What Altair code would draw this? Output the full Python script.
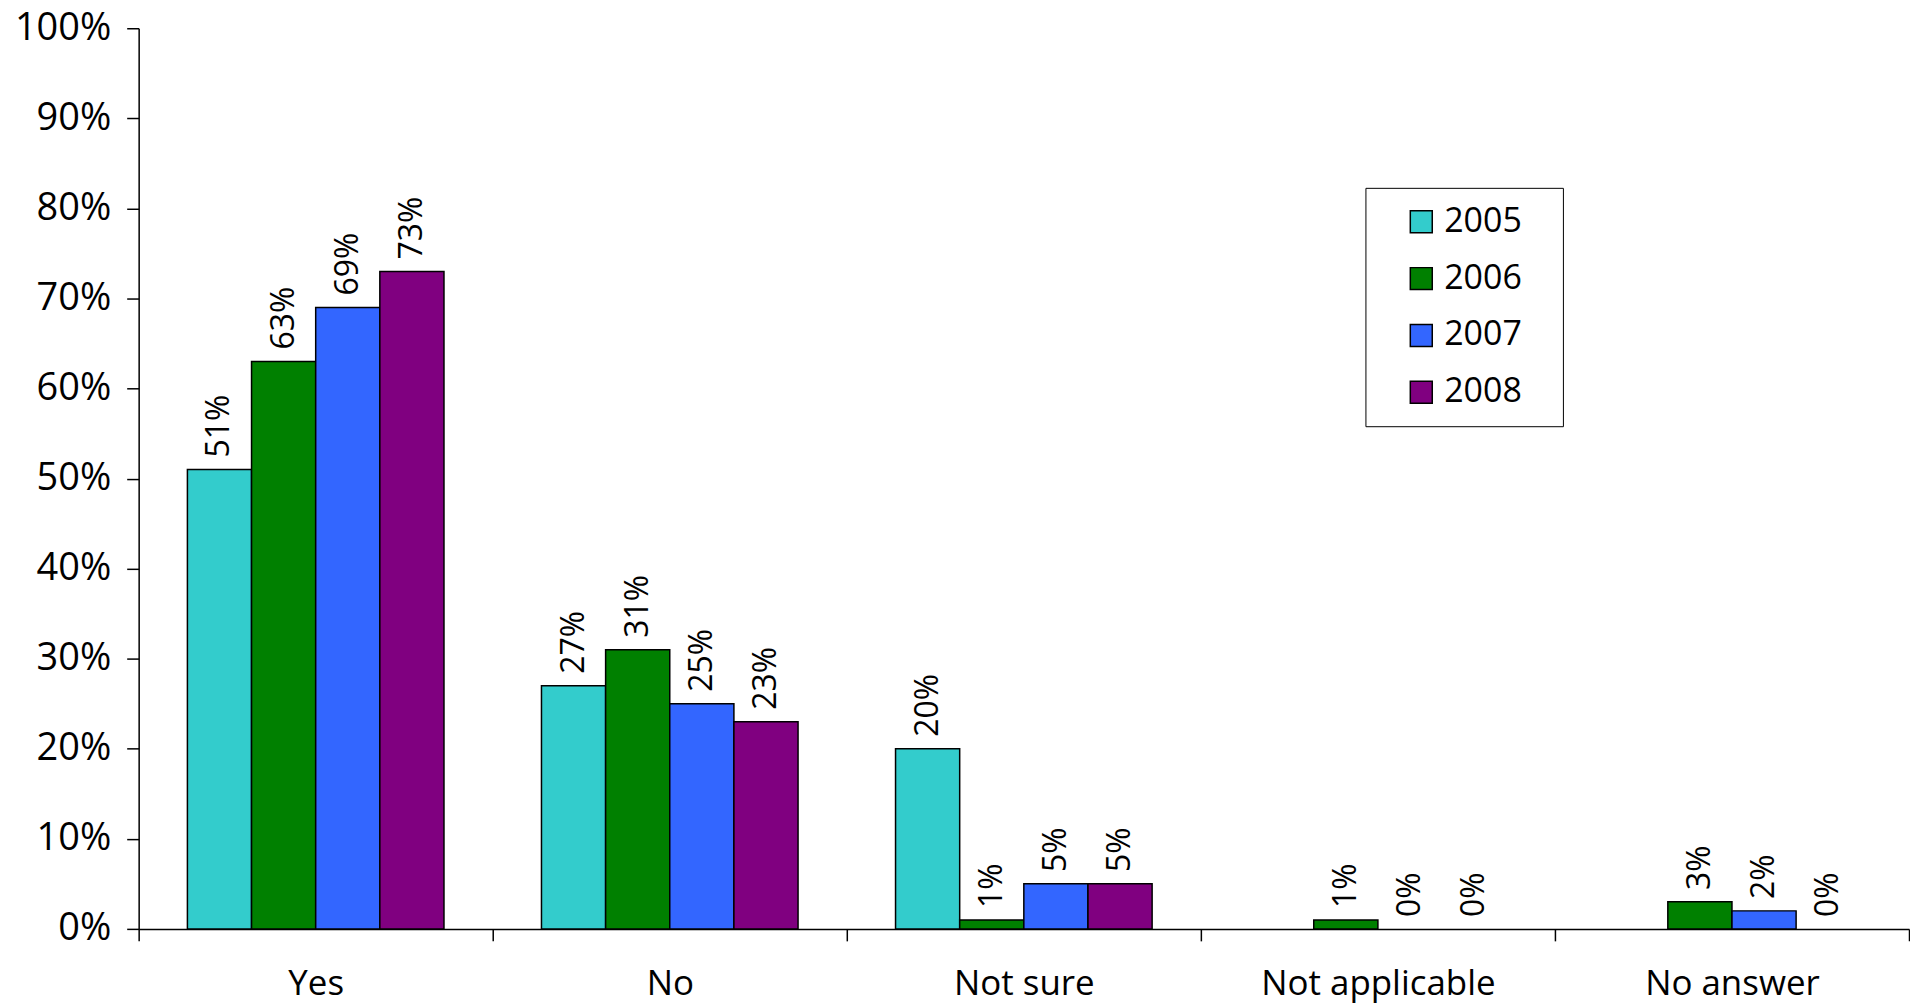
import altair as alt
import pandas as pd

categories = ["Yes", "No", "Not sure", "Not applicable", "No answer"]
years = ["2005", "2006", "2007", "2008"]
v2005 = [51, 27, 20, None, None]
v2006 = [63, 31, 1, 1, 3]
v2007 = [69, 25, 5, 0, 2]
v2008 = [73, 23, 5, 0, 0]
colors = ["#33CCCC", "#008000", "#3366FF", "#800080"]
y_ticks = [0, 10, 20, 30, 40, 50, 60, 70, 80, 90, 100]

rows = []
for yr, vals in zip(years, [v2005, v2006, v2007, v2008]):
    for c, v in zip(categories, vals):
        if v is not None:
            rows.append({"category": c, "year": yr, "value": v, "label": f"{v}%"})
df = pd.DataFrame(rows)

FONT = "Open Sans"

x = alt.X(
    "category:N", sort=categories, title=None,
    scale=alt.Scale(paddingInner=0, paddingOuter=0),
    axis=alt.Axis(tickBand="extent", labelAngle=0, tickSize=12, labelPadding=26,
                  labelFontSize=35, labelFont=FONT, labelColor="black",
                  labelLimit=0, domainColor="black", tickColor="black",
                  domainWidth=1.5, tickWidth=1.5, grid=False),
)
xo = alt.XOffset("year:N", sort=years,
                 scale=alt.Scale(domain=years, paddingOuter=0.76, paddingInner=0))
y = alt.Y(
    "value:Q", title=None, scale=alt.Scale(domain=[0, 100]),
    axis=alt.Axis(values=y_ticks, labelExpr="datum.value + '%'", tickSize=12,
                  labelPadding=16, labelFontSize=38, labelFont=FONT,
                  labelColor="black", domainColor="black", tickColor="black",
                  domainWidth=1.5, tickWidth=1.5, grid=False),
)

base = alt.Chart(df)
bars = base.mark_bar(stroke="black", strokeWidth=1.5).encode(
    x=x, xOffset=xo, y=y,
    color=alt.Color(
        "year:N", scale=alt.Scale(domain=years, range=colors),
        legend=alt.Legend(
            title="0000", titleOpacity=0, titleOrient="right",
            titleFontSize=10, titlePadding=1,
            orient="none", legendX=1230, legendY=160,
            strokeColor="black", padding=17, symbolType="square",
            symbolSize=484, symbolStrokeColor="black", symbolStrokeWidth=1.5,
            labelFontSize=34, labelFont=FONT, labelColor="black",
            rowPadding=23, symbolOffset=22, labelOffset=6,
        ),
    ),
).transform_filter("datum.value > 0")
text = base.mark_text(angle=270, align="left", baseline="middle", dx=12,
                      fontSize=32, font=FONT, color="black").encode(
    x=x, xOffset=xo, y=y, text="label:N")

chart = (bars + text).properties(
    width=1775, height=903,
    padding={"left": 6, "top": 0, "right": 0, "bottom": 0},
).configure_view(stroke=None)

chart.save("out.html", embed_options={"renderer": "svg", "actions": False})
